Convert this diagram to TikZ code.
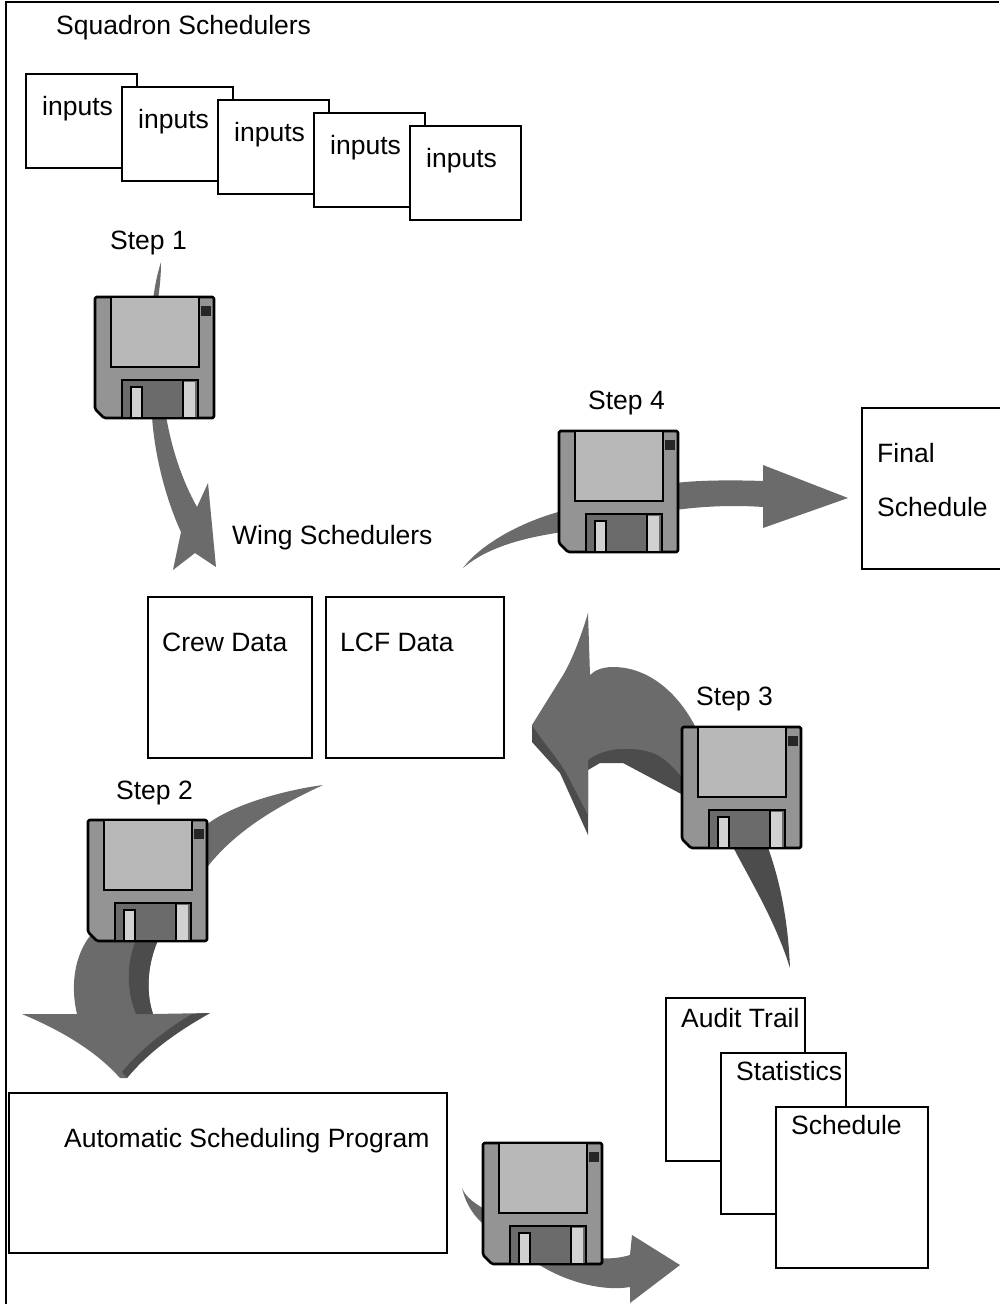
\documentclass[tikz,border=0pt]{standalone}
\usepackage{fontspec}
\setmainfont{Liberation Sans}
\definecolor{arrowgrey}{gray}{0.42}
\definecolor{arrowdark}{gray}{0.30}
\definecolor{diskgrey}{gray}{0.58}
\definecolor{winegrey}{gray}{0.72}
\definecolor{shutgrey}{gray}{0.42}
\definecolor{slotgrey}{gray}{0.82}
\tikzset{
  x=1pt,y=-1pt,
  boxnode/.style={draw=black,line width=2pt,fill=white},
  lbl/.style={font=\fontsize{26.5}{30}\selectfont,anchor=base west,inner sep=0pt},
  arrowshape/.style={fill=arrowgrey,draw=none},
  arrowshade/.style={fill=arrowdark,draw=none},
  pics/disk/.style={code={
    \draw[fill=diskgrey,line width=2.6pt,line join=round,rounded corners=1.5pt]
      (0,0) -- (119,0) -- (119,121) -- (9,121) -- (0,112) -- cycle;
    \draw[fill=winegrey,line width=2.4pt] (16,0) rectangle (104,70);
    \draw[fill=shutgrey,line width=2.6pt] (27,83) rectangle (103,121);
    \draw[fill=slotgrey,draw=black,line width=2.4pt] (36,90) rectangle (47,121);
    \fill[slotgrey] (88,85) rectangle (100,119.5);
    \draw[line width=2.4pt] (88,84) -- (88,120);
    \fill[black!85] (106,9) rectangle (116,19);
  }}
}
\begin{document}
\begin{tikzpicture}
\useasboundingbox (0,0) rectangle (999,1304);
\fill[white] (0,0) rectangle (999,1304);
\draw[line width=1.8pt] (6,1304) -- (6,2) -- (999,2);

\node[lbl] (title) at (56,34) {Squadron Schedulers};

% input sheets
\foreach \n/\x/\y in {a/26/74,b/122/87,c/218/100,d/314/113,e/410/126}{
  \draw[boxnode] (\x,\y) rectangle ++(111,94);
  \node[lbl] (in\n) at ({\x+16},{\y+41}) {inputs};
}

% arrow step 1
\fill[arrowshape] (161,262) .. controls (157,275) and (155,285) .. (153,300) -- (158,300) .. controls (160,285) and (161,275) .. cycle;
\fill[arrowshape] (152,416) .. controls (154,450) and (164,495) .. (181,532) -- (173,570) -- (195,553) -- (216,567) -- (208,483) -- (197,507) .. controls (182,480) and (172,450) .. (166,416) -- cycle;

% arrow step 4
\fill[arrowshape] (463,568) .. controls (480,545) and (520,522) .. (562,511) -- (562,532) .. controls (530,537) and (490,545) .. cycle;
\fill[arrowshape] (675,483) .. controls (700,480) and (735,480) .. (763,481) -- (763,465) -- (848,498) -- (763,528) -- (763,507) .. controls (735,505) and (705,506) .. (675,510) -- cycle;

% arrow step 3
\fill[arrowdark] (732,845) .. controls (750,880) and (775,920) .. (790,968) .. controls (788,920) and (780,880) .. (767,845) -- cycle;
\fill[arrowshade] (532,725) -- (532,742) -- (560,773) -- (588,835) -- (588,770) -- (600,763) -- (623,763) -- (685,796) -- (690,760) -- (650,745) -- (600,745) -- cycle;
\fill[arrowshape] (697,730) .. controls (680,695) and (650,667) .. (613,667) .. controls (603,667) and (595,670) .. (590,675) -- (588,613) .. controls (580,640) and (570,665) .. (560,680) -- (532,725) .. controls (545,745) and (560,760) .. (570,780) -- (588,815) -- (588,760) .. controls (600,750) and (625,745) .. (650,752) .. controls (665,756) and (675,770) .. (685,780) -- cycle;

% arrow step 2
\fill[arrowshape] (323,785) .. controls (285,790) and (230,805) .. (205,826) -- (205,870) .. controls (235,830) and (280,805) .. cycle;
\fill[arrowshape] (90,936) .. controls (75,955) and (70,985) .. (77,1014) -- (22,1014) .. controls (60,1030) and (95,1050) .. (120,1078) -- (127,1078) .. controls (150,1050) and (180,1030) .. (210,1013) -- (153,1014) .. controls (145,990) and (148,960) .. (160,936) -- cycle;
\fill[arrowshade] (138,936) .. controls (126,960) and (126,990) .. (136,1014) -- (153,1014) .. controls (145,990) and (148,960) .. (160,936) -- cycle;
\fill[arrowshade] (127,1078) .. controls (150,1050) and (180,1030) .. (210,1013) -- (192,1014) .. controls (165,1030) and (140,1050) .. (122,1072) -- cycle;

% arrow unnamed, after the scheduling program
\fill[arrowshape] (462,1188) .. controls (466,1198) and (476,1204) .. (486,1210) -- (486,1226) .. controls (475,1218) and (466,1205) .. cycle;
\fill[arrowshape] (532,1260) .. controls (560,1280) and (600,1292) .. (630,1287) -- (630,1303) -- (680,1265) -- (632,1235) -- (630,1255) .. controls (620,1258) and (610,1259) .. (598,1258) -- cycle;

% disks
\path (95,297) pic {disk};
\path (559,431) pic {disk};
\path (682,727) pic {disk};
\path (88,820) pic {disk};
\path (483,1143) pic {disk};

\node[lbl] (s1) at (110,249) {Step 1};
\node[lbl] (s4) at (588,409) {Step 4};
\node[lbl] (s3) at (696,705) {Step 3};
\node[lbl] (s2) at (116,799) {Step 2};

\node[lbl] (wing) at (232,544) {Wing Schedulers};

\draw[boxnode] (148,597) rectangle (312,758);
\node[lbl] (crew) at (162,651) {Crew Data};
\draw[boxnode] (326,597) rectangle (504,758);
\node[lbl] (lcf) at (340,651) {LCF Data};

\draw[boxnode] (862,408) rectangle (1005,569);
\node[lbl] (final) at (877,462) {Final};
\node[lbl] (sched) at (877,516) {Schedule};

\draw[boxnode] (9,1093) rectangle (447,1253);
\node[lbl] (auto) at (64,1147) {Automatic Scheduling Program};

\draw[boxnode] (666,998) rectangle (805,1161);
\node[lbl] (audit) at (681,1027) {Audit Trail};
\draw[boxnode] (721,1053) rectangle (846,1214);
\node[lbl] (stats) at (736,1080) {Statistics};
\draw[boxnode] (776,1107) rectangle (928,1268);
\node[lbl] (sch2) at (791,1134) {Schedule};
\end{tikzpicture}
\end{document}
